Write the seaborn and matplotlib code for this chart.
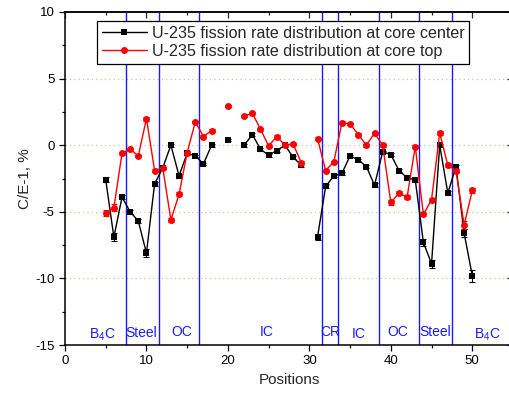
import numpy as np
import pandas as pd
import matplotlib
matplotlib.use("Agg")
import matplotlib.pyplot as plt
from matplotlib.lines import Line2D
from matplotlib.ticker import MultipleLocator
import seaborn as sns

# ---- data ----
positions = [5, 6, 7, 8, 9, 10, 11, 12, 13, 14, 15, 16, 17, 18, 20,
             22, 23, 24, 25, 26, 27, 28, 29,
             31, 32, 33, 34, 35, 36, 37, 38, 39, 40, 41, 42, 43, 44, 45, 46, 47, 48, 49, 50]
segment = [0]*14 + [1] + [2]*8 + [3]*20
center = [-2.6, -6.9, -3.9, -5.0, -5.7, -8.1, -2.9, -1.7, 0.0, -2.3, -0.6, -0.8, -1.4, 0.0, 0.4,
          0.0, 0.8, -0.3, -0.75, -0.4, 0.0, -0.9, -1.5,
          -6.9, -3.1, -2.3, -2.1, -0.8, -1.1, -1.6, -3.0, -0.5, -0.7, -1.9, -2.45, -2.6, -7.3, -8.9,
          0.0, -3.6, -1.6, -6.6, -9.8]
top = [-5.1, -4.7, -0.6, -0.3, -0.8, 2.0, -1.9, -1.7, -5.6, -3.7, -0.55, 1.75, 0.65, 1.1, 2.95,
       2.2, 2.4, 1.2, -0.05, 0.65, 0.0, 0.1, -1.3,
       0.5, -1.9, -1.25, 1.7, 1.6, 0.8, 0.0, 0.9, 0.0, -4.3, -3.6, -3.9, -0.1, -5.2, -4.1,
       0.9, -1.5, -1.9, -6.0, -3.4]
center_err = [0.2, 0.3, 0.15, 0.15, 0.15, 0.3, 0.15, 0.1, 0.1, 0.15, 0.1, 0.1, 0.1, 0.1, 0.1,
              0.1, 0.1, 0.1, 0.1, 0.1, 0.1, 0.1, 0.15,
              0.2, 0.15, 0.1, 0.1, 0.1, 0.1, 0.1, 0.15, 0.1, 0.1, 0.1, 0.1, 0.15, 0.25, 0.3,
              0.1, 0.15, 0.15, 0.3, 0.45]
top_err = [0.25, 0.25, 0.1, 0.1, 0.1, 0.15, 0.1, 0.1, 0.15, 0.15, 0.1, 0.1, 0.1, 0.1, 0.1,
           0.1, 0.1, 0.1, 0.1, 0.1, 0.1, 0.1, 0.15,
           0.1, 0.1, 0.1, 0.1, 0.1, 0.1, 0.1, 0.1, 0.1, 0.2, 0.15, 0.15, 0.1, 0.15, 0.15,
           0.15, 0.15, 0.15, 0.3, 0.2]
series_names = ["U-235 fission rate distribution at core center",
                "U-235 fission rate distribution at core top"]
boundaries = [7.5, 11.5, 16.5, 31.5, 33.5, 38.5, 43.5, 47.5]
region_labels = [r"B$\mathregular{_4}$C", "Steel", "OC", "IC", "CR", "IC", "OC", "Steel", r"B$\mathregular{_4}$C"]
region_x = [4.6, 9.3, 14.3, 24.7, 32.6, 36.1, 40.9, 45.4, 51.9]
region_y = [-14.2, -14.1, -14.0, -14.0, -14.05, -14.2, -14.0, -14.0, -14.2]

# ---- frame ----
df = pd.concat([
    pd.DataFrame({"pos": positions, "value": center, "err": center_err,
                  "series": series_names[0], "seg": segment}),
    pd.DataFrame({"pos": positions, "value": top, "err": top_err,
                  "series": series_names[1], "seg": segment}),
], ignore_index=True)

sns.set_theme(style="ticks")
plt.rcParams["font.family"] = ["Liberation Sans", "DejaVu Sans"]
plt.rcParams["mathtext.fontset"] = "custom"
plt.rcParams["mathtext.rm"] = "Liberation Sans"
plt.rcParams["axes.unicode_minus"] = False

fig = plt.figure(figsize=(5.1, 3.94), dpi=100)
ax = fig.add_axes([65/510, 1-345/394, 448/510, 333/394])

colors = {series_names[0]: "black", series_names[1]: "red"}
markers = {series_names[0]: "s", series_names[1]: "o"}

# grid lines
for gy in [-10, -5, 0, 5]:
    ax.axhline(gy, color="#c8c8a0", lw=0.9, ls=(0, (1, 2.5)), zorder=0)

for b in boundaries:
    ax.axvline(b, color="#1a1aff", lw=1.0, zorder=1)

# error bars
for name in series_names:
    sub = df[df.series == name]
    ax.errorbar(sub.pos, sub.value, yerr=sub.err, fmt="none", ecolor=colors[name],
                elinewidth=0.8, capsize=2.2, capthick=0.8, zorder=3)

sns.lineplot(data=df, x="pos", y="value", hue="series", style="series", units="seg",
             estimator=None, palette=colors, markers=markers, dashes=False,
             markersize=5, markeredgewidth=0, linewidth=1.0, legend=False,
             sort=True, ax=ax, zorder=4)

for lab, xx, yy in zip(region_labels, region_x, region_y):
    ax.text(xx, yy, lab, color="#1a1aff", fontsize=10, ha="center", va="center")

ax.set_xlim(0, 55)
ax.set_ylim(-15, 10)
ax.xaxis.set_major_locator(MultipleLocator(10))
ax.xaxis.set_minor_locator(MultipleLocator(5))
ax.yaxis.set_major_locator(MultipleLocator(5))
ax.yaxis.set_minor_locator(MultipleLocator(2.5))
ax.tick_params(which="both", direction="out", labelsize=9.5, width=0.9, colors="black")
ax.tick_params(which="major", length=4)
ax.tick_params(which="minor", length=2.5)
for s in ax.spines.values():
    s.set_linewidth(1.1)
    s.set_color("black")

# mirrored inward ticks on top and right
axt = ax.secondary_xaxis("top")
axt.xaxis.set_major_locator(MultipleLocator(10))
axt.xaxis.set_minor_locator(MultipleLocator(5))
axt.tick_params(which="both", direction="in", labeltop=False, width=0.9)
axt.tick_params(which="major", length=4)
axt.tick_params(which="minor", length=2.5)
axr = ax.secondary_yaxis("right")
axr.yaxis.set_major_locator(MultipleLocator(5))
axr.yaxis.set_minor_locator(MultipleLocator(2.5))
axr.tick_params(which="both", direction="in", labelright=False, width=0.9)
axr.tick_params(which="major", length=4)
axr.tick_params(which="minor", length=2.5)

ax.set_xlabel("Positions", fontsize=11, labelpad=4)
ax.set_ylabel("C/E-1, %", fontsize=11, labelpad=2)

handles = [Line2D([0], [0], color="black", marker="s", markersize=5, lw=1.0, markeredgewidth=0),
           Line2D([0], [0], color="red", marker="o", markersize=5, lw=1.0, markeredgewidth=0)]
leg = ax.legend(handles, series_names, loc="upper left", bbox_to_anchor=(0.071, 0.973),
                borderaxespad=0, fontsize=11.6, frameon=True, fancybox=False,
                edgecolor="black", framealpha=1, handlelength=2.8, handletextpad=0.3,
                labelspacing=0.2, borderpad=0.3)
leg.get_frame().set_linewidth(0.9)

fig.savefig("out.png", dpi=100)
